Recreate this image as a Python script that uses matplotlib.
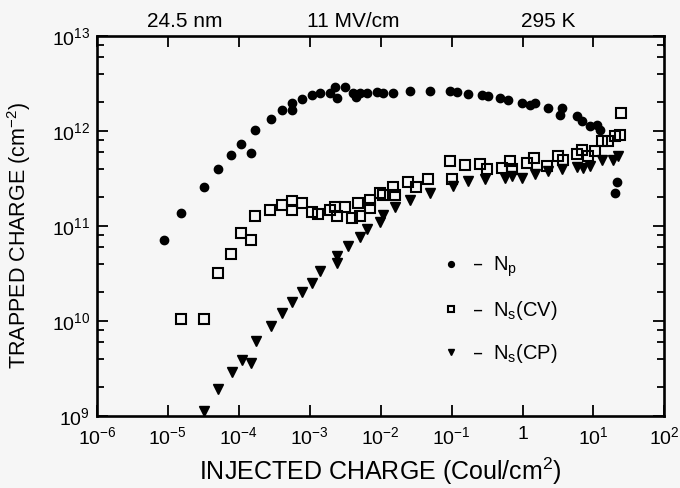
import numpy as np
import matplotlib.pyplot as plt
from matplotlib.ticker import FixedLocator, NullFormatter

plt.rcParams['font.family'] = ['Liberation Sans', 'DejaVu Sans']
plt.rcParams['mathtext.default'] = 'regular'

# N_p (filled circles)
np_x = [8.8e-6, 1.53e-5, 3.2e-5, 5.1e-5, 7.8e-5, 1.06e-4, 1.47e-4, 1.69e-4, 2.8e-4, 4.0e-4,
        5.7e-4, 5.7e-4, 7.7e-4, 1.07e-3, 1.4e-3, 1.93e-3, 2.28e-3, 3.15e-3, 4.1e-3, 5.1e-3,
        6.4e-3, 8.8e-3, 1.09e-2, 1.51e-2, 2.6e-2, 4.98e-2, 9.5e-2, 0.118, 0.173, 0.267,
        0.33, 0.483, 0.632, 0.98, 1.28, 1.51, 2.32, 3.58, 3.39, 5.8,
        6.9, 9.0, 11.2, 12.4, 20.2, 21.8, 2.4e-3, 4.5e-3]
np_y = [7.1e10, 1.36e11, 2.57e11, 4.0e11, 5.6e11, 7.3e11, 5.8e11, 1.03e12, 1.34e12, 1.65e12,
        1.97e12, 1.68e12, 2.17e12, 2.40e12, 2.51e12, 2.50e12, 2.93e12, 2.93e12, 2.49e12, 2.49e12,
        2.49e12, 2.55e12, 2.54e12, 2.54e12, 2.61e12, 2.62e12, 2.66e12, 2.56e12, 2.45e12, 2.39e12,
        2.31e12, 2.25e12, 2.11e12, 1.99e12, 1.88e12, 1.99e12, 1.75e12, 1.75e12, 1.49e12, 1.43e12,
        1.26e12, 1.12e12, 1.16e12, 1.03e12, 2.2e11, 2.9e11, 2.2e12, 2.3e12]

# N_s(CV) (open squares)
cv_x = [1.53e-5, 3.2e-5, 5.1e-5, 7.8e-5, 1.06e-4, 1.47e-4, 1.69e-4, 2.75e-4, 4.0e-4, 5.7e-4,
        5.7e-4, 7.7e-4, 1.07e-3, 1.32e-3, 1.93e-3, 2.28e-3, 3.15e-3, 2.4e-3, 3.9e-3, 4.8e-3,
        5.1e-3, 7.1e-3, 7.1e-3, 9.8e-3, 1.51e-2, 1.09e-2, 1.6e-2, 2.46e-2, 3.2e-2, 4.7e-2,
        9.5e-2, 0.10, 0.155, 0.252, 0.314, 0.51, 0.668, 0.70, 1.15, 1.43,
        2.2, 3.21, 3.77, 5.8, 6.9, 8.5, 10.6, 13.1, 16.3, 20.2, 23.8, 24.3]
cv_y = [1.06e10, 1.06e10, 3.2e10, 5.1e10, 8.4e10, 7.2e10, 1.27e11, 1.46e11, 1.68e11, 1.82e11,
        1.46e11, 1.74e11, 1.42e11, 1.34e11, 1.48e11, 1.60e11, 1.60e11, 1.26e11, 1.21e11, 1.76e11,
        1.26e11, 1.87e11, 1.53e11, 2.20e11, 2.58e11, 2.11e11, 2.11e11, 2.90e11, 2.57e11, 3.14e11,
        4.88e11, 3.13e11, 4.42e11, 4.5e11, 3.98e11, 4.13e11, 4.84e11, 3.99e11, 4.64e11, 5.24e11,
        4.27e11, 5.44e11, 5.0e11, 5.66e11, 6.37e11, 5.42e11, 6.1e11, 7.8e11, 7.8e11, 8.8e11, 9.1e11, 1.54e12]

# N_s(CP) (filled down triangles)
cp_x = [3.2e-5, 5.1e-5, 7.9e-5, 1.10e-4, 1.47e-4, 1.73e-4, 2.8e-4, 4.0e-4, 5.7e-4, 7.7e-4,
        1.07e-3, 1.4e-3, 2.4e-3, 2.4e-3, 3.5e-3, 5.1e-3, 6.4e-3, 9.8e-3, 1.09e-2, 1.6e-2,
        2.6e-2, 4.98e-2, 0.106, 0.173, 0.297, 0.569, 0.70, 0.98, 1.51, 2.32,
        3.58, 5.8, 7.2, 9.0, 13.1, 19.1, 22.5]
cp_y = [1.13e9, 1.91e9, 2.9e9, 3.9e9, 3.6e9, 6.1e9, 8.95e9, 1.2e10, 1.58e10, 2.0e10,
        2.54e10, 3.37e10, 4.84e10, 4.1e10, 6.2e10, 7.7e10, 9.4e10, 1.10e11, 1.30e11, 1.58e11,
        1.86e11, 2.21e11, 2.66e11, 3.0e11, 3.12e11, 3.24e11, 3.37e11, 3.23e11, 3.5e11, 3.78e11,
        3.94e11, 4.16e11, 4.09e11, 4.25e11, 4.99e11, 4.98e11, 5.4e11]

xticks = [1e-6, 1e-5, 1e-4, 1e-3, 1e-2, 1e-1, 1, 10, 100]
xtick_labels = ['$10^{-6}$', '$10^{-5}$', '$10^{-4}$', '$10^{-3}$', '$10^{-2}$',
                '$10^{-1}$', '1', '$10^{1}$', '$10^{2}$']
yticks = [1e9, 1e10, 1e11, 1e12, 1e13]
ytick_labels = ['$10^{9}$', '$10^{10}$', '$10^{11}$', '$10^{12}$', '$10^{13}$']
conditions = ['24.5 nm', '11 MV/cm', '295 K']

bg = '#f6f6f6'
fig = plt.figure(figsize=(6.8, 4.88), dpi=100, facecolor=bg)
ax = fig.add_axes([0.1426, 0.1475, 0.8344, 0.7787])
ax.set_facecolor(bg)

ax.plot(np_x, np_y, 'o', color='black', markersize=6.0, label='–  N$_p$')
ax.plot(cv_x, cv_y, 's', mfc='none', mec='black', mew=1.5, markersize=7.0,
        label='–  N$_s$(CV)')
ax.plot(cp_x, cp_y, 'v', color='black', markersize=7.0, label='–  N$_s$(CP)')

ax.set_xscale('log')
ax.set_yscale('log')
ax.set_xlim(1e-6, 1e2)
ax.set_ylim(1e9, 1e13)

ax.set_xticks(xticks)
ax.set_xticklabels(xtick_labels)
ax.xaxis.set_minor_locator(FixedLocator([]))
ax.set_yticks(yticks)
ax.set_yticklabels(ytick_labels)
ax.yaxis.set_minor_locator(FixedLocator(
    [m * 10.0 ** e for e in range(9, 13) for m in (2, 4, 6, 8)]))
ax.yaxis.set_minor_formatter(NullFormatter())

ax.tick_params(which='both', direction='in', top=True, right=True, labelsize=14,
               width=1.3, colors='black')
ax.tick_params(which='major', length=8)
ax.tick_params(axis='x', which='major', pad=7)
ax.tick_params(axis='y', which='major', pad=5)
ax.tick_params(which='minor', length=5)
for s in ax.spines.values():
    s.set_linewidth(1.9)

ax.set_xlabel('INJECTED CHARGE (Coul/cm$^2$)', fontsize=18, labelpad=6)
ax.set_ylabel('TRAPPED CHARGE (cm$^{-2}$)', fontsize=15.5)
ax.yaxis.set_label_coords(-0.112, 0.474)

for txt, xf in zip(conditions, [0.272, 0.519, 0.806]):
    fig.text(xf, 0.956, txt, ha='center', va='center', fontsize=15)

ax.legend(loc='center left', bbox_to_anchor=(0.606, 0.279), frameon=False,
          fontsize=14.5, markerscale=0.7, handlelength=1.0, handletextpad=0.55,
          labelspacing=1.0, borderpad=0, borderaxespad=0)

fig.savefig('out.png', dpi=100, facecolor=bg)
